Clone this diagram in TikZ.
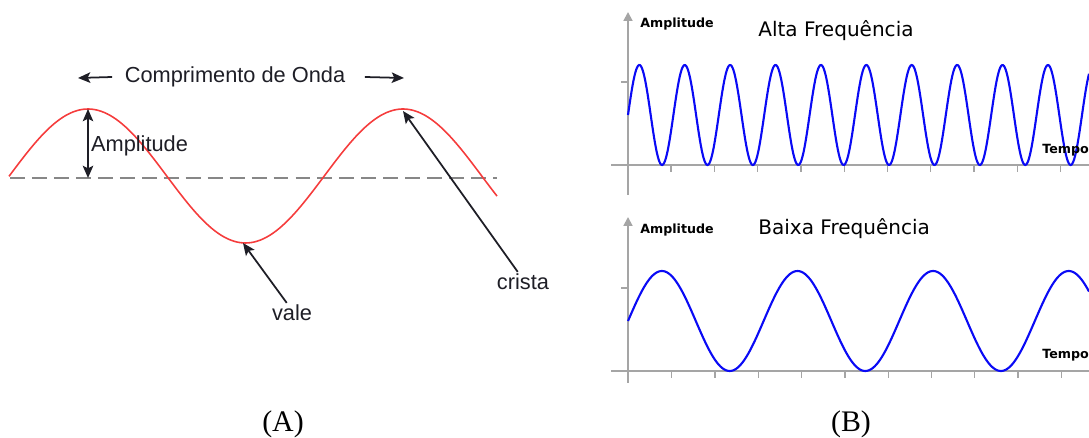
\documentclass[tikz,border=0pt]{standalone}
\usepackage{fontspec}
\setmainfont{Liberation Serif}
\newfontfamily\arialfont{Liberation Sans}
\newfontfamily\dejafont{DejaVu Sans}
\definecolor{waveRed}{RGB}{245,60,60}
\definecolor{sigBlue}{RGB}{10,10,245}
\definecolor{axisGray}{RGB}{165,165,165}
\definecolor{dashGray}{RGB}{135,135,135}
\definecolor{inkDark}{RGB}{30,30,38}
\usetikzlibrary{arrows.meta,positioning,calc}

\begin{document}
\begin{tikzpicture}[
  x=0.02cm, y=-0.02cm,
  wave/.style={waveRed, line width=0.9pt},
  sig/.style={sigBlue, line width=1.2pt},
  ax/.style={axisGray, line width=1.1pt},
  tickmark/.style={axisGray, line width=0.7pt},
  arr/.style={-{Stealth[length=7pt,width=6pt,inset=1.5pt]}, inkDark, line width=1pt},
  lbl/.style={font=\arialfont\fontsize{12.4}{14}\selectfont, text=inkDark, inner sep=1pt},
  ttl/.style={font=\dejafont\fontsize{11.4}{13}\selectfont, inner sep=0pt},
  axl/.style={font=\dejafont\bfseries\fontsize{7.2}{9}\selectfont, inner sep=0pt},
  panelcap/.style={font=\fontsize{17}{20}\selectfont, inner sep=0pt}
]
  \useasboundingbox (0,0) rectangle (1089,438);

  % (A) wave
  \coordinate (mid0) at (10,178);
  \coordinate (mid1) at (497,178);
  \coordinate (crest1) at (88,109);
  \coordinate (base1) at (88,178);
  \coordinate (trough) at (243,243);
  \coordinate (crest2) at (403,111);
  \coordinate (lamL) at (78,78);
  \coordinate (lamR) at (404,78);

  \draw[dashGray, line width=0.7pt, dash pattern=on 8.5pt off 4pt] (mid0) -- (mid1);
  \draw[wave] plot[domain=9:497, samples=160] (\x, {176 - 67*cos(1.14286*(\x-88))});

  \node[lbl, inner xsep=7pt] (comp) at (235,77) {Comprimento de Onda};
  \draw[arr] (comp.west) -- (lamL);
  \draw[arr] ([xshift=4pt]comp.east) -- (lamR);

  \draw[arr, {Stealth[length=7pt,width=6pt,inset=1.5pt]}-{Stealth[length=7pt,width=6pt,inset=1.5pt]}] (crest1) -- (base1);
  \node[lbl, anchor=west] (amp) at (89,146) {Amplitude};

  \node[lbl] (vale) at (292,313) {vale};
  \node[lbl] (crista) at (523,282) {crista};
  \draw[arr] ([xshift=-3pt]vale.north) -- (trough);
  \draw[arr] ([xshift=-3pt]crista.north) -- (crest2);

  % (B) signals
  \begin{scope}
    \clip (600,0) rectangle (1089,438);
    % high frequency
    \draw[ax, -{Triangle[length=5pt,width=5pt]}] (628,195) -- (628,12);
    \draw[ax] (611,165) -- (1089,165);
    \draw[tickmark] (621,82) -- (628,82);
    \foreach \k in {0,...,9} \draw[tickmark] (671+43.3*\k,165) -- (671+43.3*\k,172);
    \draw[sig] plot[domain=628:1089, samples=500] (\x, {115 - 50*sin(7.9295*(\x-628))});
    \node[axl, anchor=west] (ampH) at (640,24) {Amplitude};
    \node[ttl, anchor=west] (alta) at (758,31) {Alta Frequência};
    \node[axl, anchor=west] (tempoH) at (1042,150) {Tempo};

    % low frequency
    \draw[ax, -{Triangle[length=5pt,width=5pt]}] (628,383) -- (628,217);
    \draw[ax] (611,371) -- (1089,371);
    \draw[tickmark] (621,288) -- (628,288);
    \foreach \k in {0,...,9} \draw[tickmark] (671.7+43.3*\k,371) -- (671.7+43.3*\k,378);
    \draw[sig] plot[domain=628:1089, samples=300] (\x, {321 - 50*sin(2.6549*(\x-628))});
    \node[axl, anchor=west] (ampL) at (640,230) {Amplitude};
    \node[ttl, anchor=west] (baixa) at (758,229) {Baixa Frequência};
    \node[axl, anchor=west] (tempoL) at (1042,355) {Tempo};
  \end{scope}

  \node[panelcap] (capA) at (283,424) {(A)};
  \node[panelcap] (capB) at (851,424) {(B)};
\end{tikzpicture}
\end{document}
